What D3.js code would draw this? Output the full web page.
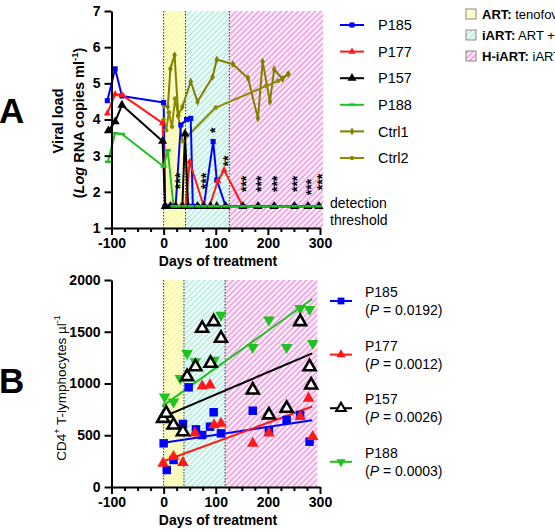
<!DOCTYPE html>
<html>
<head>
<meta charset="utf-8">
<script src="https://cdn.jsdelivr.net/npm/d3@7"></script>
<style>
  body { margin: 0; background: #fff; }
  svg { display: block; font-family: "Liberation Sans", Arial, sans-serif; }
</style>
</head>
<body>
<div id="chart"></div>
<script>
// panel A: viral load, [day, log10 RNA copies/ml]
const vlP185 = [[-108,4.52],[-93,5.40],[-80,4.65],[0,4.47],[3,1.6],[13,1.6],[23,1.6],[33,3.85],[44,4.0],[52,4.03],[56,1.6],[65,1.6],[77,1.6],[95,3.39],[102,2.33],[119,1.6],[152,1.6],[181,1.6],[212,1.6],[251,1.6],[277,1.6],[298,1.6]];
const vlP177 = [[-108,4.17],[-93,4.70],[-80,4.68],[-2,3.9],[3,1.6],[13,1.6],[23,1.6],[33,1.6],[42,1.6],[50,2.83],[77,1.6],[88,1.6],[104,2.3],[116,2.6],[152,1.6],[181,1.6],[212,1.6],[251,1.6],[277,1.6],[298,1.6]];
const vlP157 = [[-106,3.69],[-93,3.94],[-80,4.40],[-2,3.4],[3,1.6],[13,1.6],[23,1.6],[36,1.6],[41,3.6],[47,1.6],[65,1.6],[77,1.6],[90,1.6],[102,1.6],[119,1.6],[152,1.6],[181,1.6],[212,1.6],[251,1.6],[277,1.6],[298,1.6]];
const vlP188 = [[-107,2.83],[-93,3.62],[-80,3.6],[0,2.7],[8,3.15],[19,1.6],[28,1.6],[40,1.6],[52,1.6],[65,1.6],[77,1.6],[90,1.6],[102,1.6],[119,1.6],[152,1.6],[181,1.6],[212,1.6],[251,1.6],[277,1.6],[298,1.6]];
const vlCtrl1 = [[0,4.4],[8,4.35],[13,5.4],[21,5.78],[28,4.12],[36,4.35],[52,5.05],[65,4.49],[94,5.18],[102,5.66],[133,5.53],[162,5.14],[181,4.03],[190,5.6],[204,4.49],[212,5.39],[228,5.12],[239,5.26]];
const vlCtrl2 = [[0,4.0],[5,3.7],[10,4.2],[16,3.8],[22,4.58],[28,4.1],[36,3.4],[100,4.33],[197,4.93],[220,5.07],[239,5.26]];
const vlNames = ["P185", "P177", "P157", "P188", "Ctrl1", "Ctrl2"];

// significance marks above the curves: [day, log value, stars]
const stars = [[26,2.3,"***"],[76,2.3,"***"],[92,3.7,"*"],[117,2.85,"**"],[152,2.22,"***"],[181,2.22,"***"],[212,2.22,"***"],[251,2.22,"***"],[277,2.13,"***"],[298,2.27,"***"]];

// panel B: CD4+ counts, [day, cells/ul]
const cd4P185 = [[0,422],[6,164],[19,261],[37,609],[48,963],[62,557],[74,502],[89,583],[96,722],[110,518],[171,737],[202,545],[236,647],[262,696],[280,438]];
const cd4P177 = [[-1,229],[19,293],[37,235],[60,519],[74,975],[89,985],[97,599],[110,615],[171,422],[202,520],[262,679],[278,857],[286,486]];
const cd4P157 = [[-1,663],[5,712],[19,599],[37,534],[45,1066],[61,1162],[74,1533],[90,1195],[96,1597],[110,1437],[171,937],[202,696],[236,760],[262,1597],[280,1162],[283,985]];
const cd4P188 = [[2,872],[19,824],[32,1050],[45,1292],[61,1211],[97,1227],[110,1662],[171,1350],[202,1614],[236,1350],[262,1727],[280,1717],[286,1388]];
const cd4Names = ["P185", "P177", "P157", "P188"];
const cd4P = ["0.0192", "0.0012", "0.0026", "0.0003"];
const fitIntercept = [428, 250, 679, 790];
const fitSlope = [0.76, 1.85, 2.15, 3.6];
const fitDays = [-3, 285];

// treatment phases
const phaseNames = ["ART:", "iART:", "H-iART:"];
const phaseText = [" tenofovir + emtricitabine + dolutegravir", " ART + raltegravir + maraviroc", " iART + auranofin + BSO"];
const phaseBoundsA = [0, 42, 126, 306];
const phaseBoundsB = [0, 39, 118, 295];

const dayTicks = [-100, 0, 100, 200, 300];
const vlTicks = [1, 2, 3, 4, 5, 6, 7];
const cd4Ticks = [0, 500, 1000, 1500, 2000];

(() => {
    const width = 555, height = 532;
    const font = "Liberation Sans, Arial, sans-serif";
    const color = {P185: "#0000ff", P177: "#ff1a1a", P157: "#000000", P188: "#1fc21f", Ctrl1: "#808000", Ctrl2: "#8c8c00"};
    const phaseFill = ["#ffffc8", "#d2f6ee", "#f7c4ee"];
    const phaseLine = ["#f6f6b0", "#b4ecdf", "#ef9fe2"];

    const svg = d3.select("#chart").append("svg")
        .attr("width", width)
        .attr("height", height)
        .attr("viewBox", [0, 0, width, height]);

    const defs = svg.append("defs");
    phaseFill.forEach((c, i) => {
        const p = defs.append("pattern")
            .attr("id", "hatch" + i)
            .attr("patternUnits", "userSpaceOnUse")
            .attr("width", 4).attr("height", 4)
            .attr("patternTransform", "rotate(45)");
        p.append("rect").attr("width", 4).attr("height", 4).attr("fill", c);
        p.append("rect").attr("width", 1.6).attr("height", 4).attr("fill", i === 0 ? phaseLine[0] : "#ffffff");
        if (i > 0) p.append("rect").attr("x", 2.6).attr("width", 1.4).attr("height", 4).attr("fill", phaseLine[i]);
    });

    const x = d3.scaleLinear([-100, 300], [111.5, 320]);
    const yA = d3.scaleLinear([1, 7], [228, 11]);
    const yB = d3.scaleLinear([0, 2000], [487, 280]);

    function phases(y, bounds) {
        const g = svg.append("g");
        phaseNames.forEach((n, i) => {
            g.append("rect")
                .attr("x", x(bounds[i]))
                .attr("y", y.range()[1])
                .attr("width", x(bounds[i + 1]) - x(bounds[i]))
                .attr("height", y.range()[0] - y.range()[1])
                .attr("fill", `url(#hatch${i})`);
            g.append("line")
                .attr("x1", x(bounds[i])).attr("x2", x(bounds[i]))
                .attr("y1", y.range()[1]).attr("y2", y.range()[0])
                .attr("stroke", "#333").attr("stroke-width", 1)
                .attr("stroke-dasharray", "1.5,1.5");
        });
    }

    function axes(y, yticks) {
        const g = svg.append("g");
        const minor = d3.range(-100, 301, 25).filter(d => d % 100 !== 0);
        g.append("g")
            .attr("transform", `translate(0,${y.range()[0]})`)
            .call(d3.axisBottom(x).tickValues(minor).tickSize(4).tickSizeOuter(0).tickFormat(""))
            .call(a => a.select(".domain").remove());
        g.append("g")
            .attr("transform", `translate(0,${y.range()[0]})`)
            .call(d3.axisBottom(x).tickValues(dayTicks).tickSize(7).tickSizeOuter(0).tickPadding(3).tickFormat(d => String(d)));
        g.append("g")
            .attr("transform", `translate(${x.range()[0]},0)`)
            .call(d3.axisLeft(y).tickValues(yticks).tickSize(7).tickSizeOuter(0).tickPadding(4).tickFormat(d => String(d)));
        g.selectAll("path.domain, line").attr("stroke", "#000").attr("stroke-width", 2);
        g.selectAll("text")
            .attr("font-family", font)
            .attr("font-size", 14)
            .attr("font-weight", "bold")
            .attr("fill", "#000");
        g.append("text")
            .attr("x", 218).attr("y", y.range()[0] + 38)
            .attr("text-anchor", "middle")
            .attr("font-size", 14).attr("font-weight", "bold")
            .text("Days of treatment");
    }

    function marker(sel, name, panel) {
        const c = color[name];
        if (panel === "A") {
            if (name === "P188") {
                sel.append("rect").attr("x", -3).attr("y", -1.3).attr("width", 6).attr("height", 2.6).attr("fill", c);
                return;
            }
            const sym = {P185: [d3.symbolSquare, 26], P177: [d3.symbolTriangle, 22], P157: [d3.symbolTriangle, 36],
                Ctrl1: [d3.symbolDiamond, 18], Ctrl2: [d3.symbolCircle, 16]}[name];
            sel.append("path").attr("d", d3.symbol(sym[0], sym[1])()).attr("fill", c);
        } else {
            const sym = {P185: [d3.symbolSquare, 72], P177: [d3.symbolTriangle, 58], P157: [d3.symbolTriangle, 62], P188: [d3.symbolTriangle, 58]}[name];
            const p = sel.append("path").attr("d", d3.symbol(sym[0], sym[1])());
            if (name === "P157") p.attr("fill", "#fff").attr("stroke", "#000").attr("stroke-width", 2.6);
            else p.attr("fill", c);
            if (name === "P188") p.attr("transform", "rotate(180)");
        }
    }

    // ---------- panel A ----------
    phases(yA, phaseBoundsA);

    const vlData = [vlP185, vlP177, vlP157, vlP188, vlCtrl1, vlCtrl2];
    const order = [5, 4, 0, 1, 2, 3];
    const line = d3.line().x(d => x(d[0])).y(d => yA(d[1]));
    const gA = svg.append("g");
    order.forEach(i => {
        gA.append("path")
            .attr("d", line(vlData[i]))
            .attr("fill", "none")
            .attr("stroke", color[vlNames[i]])
            .attr("stroke-width", 2)
            .attr("stroke-linejoin", "round");
    });
    order.forEach(i => {
        gA.append("g").selectAll("g")
            .data(vlData[i])
            .join("g")
                .attr("transform", d => `translate(${x(d[0])},${yA(d[1])})`)
                .each(function() { marker(d3.select(this), vlNames[i], "A"); });
    });

    // stars written bottom-to-top, as in the original
    const starSize = 14;
    svg.append("g")
        .attr("font-size", starSize)
        .attr("font-weight", "bold")
        .attr("text-anchor", "middle")
        .selectAll("text")
        .data(stars)
        .join("text")
            .attr("transform", d => `translate(${x(d[0]) + starSize * 0.57},${yA(d[1])}) rotate(-90)`)
            .text(d => d[2]);

    axes(yA, vlTicks);

    // panel A legend
    const legA = svg.append("g").attr("font-size", 14.5);
    vlNames.forEach((n, i) => {
        const cy = 25 + i * 26.6;
        legA.append("line").attr("x1", 340).attr("x2", 364).attr("y1", cy).attr("y2", cy)
            .attr("stroke", color[n]).attr("stroke-width", 2);
        legA.append("g").attr("transform", `translate(352,${cy})`).call(g => marker(g, n, "A"));
        legA.append("text").attr("x", 378).attr("y", cy).attr("dy", "0.36em").text(n);
    });

    svg.append("text").attr("font-size", 14).attr("x", 330).attr("y", yA(1.6) + 2).text("detection");
    svg.append("text").attr("font-size", 14).attr("x", 330).attr("y", yA(1.6) + 19).text("threshold");

    // phases legend
    const legP = svg.append("g").attr("font-size", 13);
    phaseNames.forEach((n, i) => {
        const cy = 14 + i * 21;
        legP.append("rect").attr("x", 466).attr("y", cy - 5).attr("width", 10).attr("height", 10)
            .attr("fill", i === 0 ? phaseFill[0] : `url(#hatch${i})`)
            .attr("stroke", "#888").attr("stroke-width", 1);
        const t = legP.append("text").attr("x", 482).attr("y", cy).attr("dy", "0.36em");
        t.append("tspan").attr("font-weight", "bold").text(n);
        t.append("tspan").text(phaseText[i]);
    });

    // y label A
    const ylA = svg.append("g").attr("font-size", 14.5).attr("font-weight", "bold").attr("text-anchor", "middle");
    ylA.append("text").attr("transform", "translate(63,121) rotate(-90)").text("Viral load");
    const t2 = ylA.append("text").attr("transform", "translate(84,123) rotate(-90)");
    t2.append("tspan").text("(");
    t2.append("tspan").attr("font-style", "italic").text("Log");
    t2.append("tspan").text(" RNA copies ml");
    t2.append("tspan").attr("font-size", 9.5).attr("dy", -6).text("-1");
    t2.append("tspan").attr("dy", 6).text(")");

    svg.append("text").attr("x", -1).attr("y", 123).attr("font-size", 35).attr("font-weight", "bold").text("A");

    // ---------- panel B ----------
    phases(yB, phaseBoundsB);

    const cd4Data = [cd4P185, cd4P177, cd4P157, cd4P188];
    const gB = svg.append("g");
    cd4Names.forEach((n, i) => {
        gB.append("line")
            .attr("x1", x(fitDays[0])).attr("x2", x(fitDays[1]))
            .attr("y1", yB(fitIntercept[i] + fitSlope[i] * fitDays[0]))
            .attr("y2", yB(fitIntercept[i] + fitSlope[i] * fitDays[1]))
            .attr("stroke", color[n]).attr("stroke-width", 2);
    });
    [0, 1, 3, 2].forEach(i => {
        gB.append("g").selectAll("g")
            .data(cd4Data[i])
            .join("g")
                .attr("transform", d => `translate(${x(d[0])},${yB(d[1])})`)
                .each(function() { marker(d3.select(this), cd4Names[i], "B"); });
    });

    axes(yB, cd4Ticks);

    const legB = svg.append("g").attr("font-size", 14);
    cd4Names.forEach((n, i) => {
        const cy = 301 + i * 53.6;
        legB.append("line").attr("x1", 330).attr("x2", 352).attr("y1", cy).attr("y2", cy)
            .attr("stroke", color[n]).attr("stroke-width", 2);
        legB.append("g").attr("transform", `translate(341,${cy}) scale(0.8)`).call(g => marker(g, n, "B"));
        legB.append("text").attr("x", 365).attr("y", cy - 9).attr("dy", "0.36em").text(n);
        const t = legB.append("text").attr("x", 365).attr("y", cy + 9).attr("dy", "0.36em");
        t.append("tspan").text("(");
        t.append("tspan").attr("font-style", "italic").text("P");
        t.append("tspan").text(" = " + cd4P[i] + ")");
    });

    const t3 = svg.append("text").attr("font-size", 13.5).attr("text-anchor", "middle")
        .attr("transform", "translate(66,388) rotate(-90)");
    t3.append("tspan").text("CD4");
    t3.append("tspan").attr("font-size", 9).attr("dy", -6).text("+");
    t3.append("tspan").attr("dy", 6).text(" T-lymphocytes µl");
    t3.append("tspan").attr("font-size", 9).attr("dy", -6).text("-1");

    svg.append("text").attr("x", -1).attr("y", 393).attr("font-size", 35).attr("font-weight", "bold").text("B");
}).call(this);
</script>
</body>
</html>
